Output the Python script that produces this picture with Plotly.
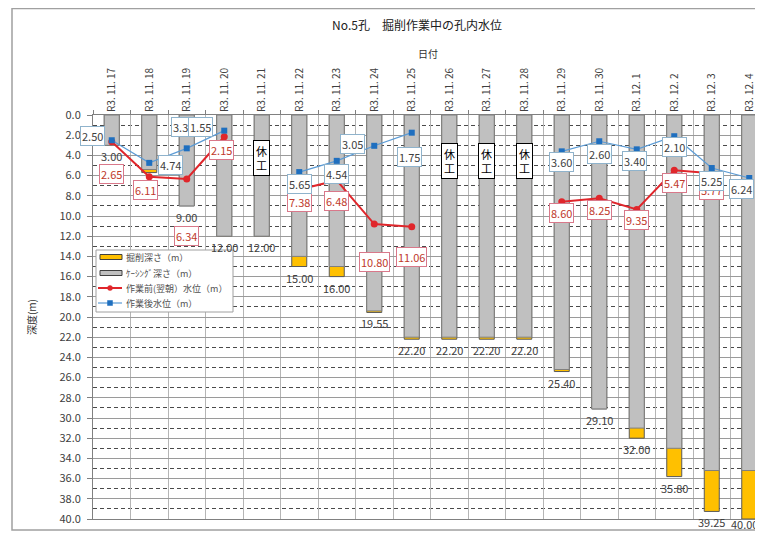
import plotly.graph_objects as go

# ---------------- data ----------------
dates = ["R3.11.17", "R3.11.18", "R3.11.19", "R3.11.20", "R3.11.21", "R3.11.22",
         "R3.11.23", "R3.11.24", "R3.11.25", "R3.11.26", "R3.11.27", "R3.11.28",
         "R3.11.29", "R3.11.30", "R3.12.1", "R3.12.2", "R3.12.3", "R3.12.4"]
excavation_depth = [3.00, 5.70, 9.00, 12.00, 12.00, 15.00, 16.00, 19.55, 22.20, 22.20,
                    22.20, 22.20, 25.40, 29.10, 32.00, 35.80, 39.25, 40.00]
casing_depth = [3.00, 5.40, 9.00, 12.00, 12.00, 14.00, 15.00, 19.40, 22.00, 22.00,
                22.00, 22.00, 25.20, 29.10, 31.00, 33.00, 35.20, 35.20]
level_before = [2.65, 6.11, 6.34, 2.15, None, 7.38, 6.48, 10.80, 11.06, None,
                None, None, 8.60, 8.25, 9.35, 5.47, 5.77, None]
level_after = [2.50, 4.74, 3.30, 1.55, None, 5.65, 4.54, 3.05, 1.75, None,
               None, None, 3.60, 2.60, 3.40, 2.10, 5.25, 6.24]
rest_days = ["R3.11.21", "R3.11.26", "R3.11.27", "R3.11.28"]
series_names = ["掘削深さ（m）", "ｹｰｼﾝｸﾞ深さ（m）", "作業前(翌朝）水位（m）", "作業後水位（m）"]

# ---------------- styling ----------------
FONT = "Noto Sans CJK JP"
OFF = 8                      # page body margin of the html page
W, H = 763 - OFF, 533 - OFF
ML, MT, MB = 93 - OFF, 115 - OFF, 14
CAT_PX = 37.5
plot_w = W - ML
plot_h = H - MT - MB
x_max = -0.5 + plot_w / CAT_PX

C_EXC, C_CAS, C_RED, C_BLUE_L, C_BLUE_M = "#ffc000", "#c0c0c0", "#e0262b", "#5b9bd5", "#1f6fbf"


def px(xs, ys):
    """screen pixel (in reference image) -> paper coords"""
    return (xs - OFF - ML) / plot_w, (H - MB - (ys - OFF)) / plot_h


# label offsets (pixels) for data labels
after_off = {0: (-19, 4), 1: (21, -2), 2: (-3, 21), 3: (-24, 4), 5: (0, -12), 6: (0, -13),
             7: (-22, 2), 8: (-2, -24), 12: (0, -11), 13: (0, -13), 14: (-2, -12),
             15: (0, -11), 16: (0, -13), 17: (-8, -11)}
before_off = {0: (0, -32), 1: (-4, -13), 2: (0, -57), 3: (-3, -13), 5: (0, -12), 6: (0, -21),
              7: (0, -38), 8: (0, -30), 12: (0, -11), 13: (0, -12), 14: (0, -11),
              15: (0, -13), 16: (0, -17)}
hidden_total = {1}
total_shift = {17: -5}
total_xshift = {17: -5}
rest_label_y = {"R3.11.21": 4.3}

fig = go.Figure()

fig.add_trace(go.Bar(
    x=dates, y=excavation_depth, name=series_names[0], width=0.4,
    marker=dict(color=C_EXC, line=dict(color="#595959", width=1)),
    hoverinfo="skip"))
fig.add_trace(go.Bar(
    x=dates, y=casing_depth, name=series_names[1], width=0.4,
    marker=dict(color=C_CAS, line=dict(color="#7f7f7f", width=1)),
    hoverinfo="skip"))
fig.add_trace(go.Scatter(
    x=dates, y=level_before, name=series_names[2], mode="lines+markers",
    line=dict(color=C_RED, width=2), connectgaps=False,
    marker=dict(symbol="circle", size=7, color=C_RED)))
fig.add_trace(go.Scatter(
    x=dates, y=level_after, name=series_names[3], mode="lines+markers",
    line=dict(color=C_BLUE_L, width=1.2), connectgaps=False,
    marker=dict(symbol="square", size=6, color=C_BLUE_M)))

annotations = []
# total depth labels
for i, (d, v) in enumerate(zip(dates, excavation_depth)):
    if i in hidden_total:
        continue
    annotations.append(dict(x=d, y=v, xref="x", yref="y", text=f"{v:.2f}",
                            showarrow=False, yshift=total_shift.get(i, -11),
                            xshift=total_xshift.get(i, 0),
                            font=dict(family=FONT, size=11, color="#404040")))
# rest-day boxes
for d in rest_days:
    annotations.append(dict(x=d, y=rest_label_y.get(d, 4.6), xref="x", yref="y",
                            text="休<br>工", showarrow=False,
                            font=dict(family=FONT, size=11, color="#000000"),
                            bgcolor="white", bordercolor="#000000", borderwidth=1,
                            borderpad=2))
# before-work labels (red)
for i, v in enumerate(level_before):
    if v is None:
        continue
    dx, dy = before_off.get(i, (0, -12))
    annotations.append(dict(x=dates[i], y=v, xref="x", yref="y", text=f"{v:.2f}",
                            showarrow=False, xshift=dx, yshift=dy,
                            font=dict(family=FONT, size=11, color="#c0392b"),
                            bgcolor="white", bordercolor="#d9788a", borderwidth=1,
                            borderpad=1))
# after-work labels (blue)
for i, v in enumerate(level_after):
    if v is None:
        continue
    dx, dy = after_off.get(i, (0, -12))
    annotations.append(dict(x=dates[i], y=v, xref="x", yref="y", text=f"{v:.2f}",
                            showarrow=False, xshift=dx, yshift=dy,
                            font=dict(family=FONT, size=11, color="#404040"),
                            bgcolor="white", bordercolor="#8fb3cc", borderwidth=1,
                            borderpad=1))

# ---------- hand-drawn compact legend (Excel style) ----------
shapes = []
bx0, by1 = px(96, 250)
bx1, by0 = px(233, 312)
shapes.append(dict(type="rect", xref="paper", yref="paper", x0=bx0, x1=bx1, y0=by0, y1=by1,
                   line=dict(color="#a0a0a0", width=1), fillcolor="white", layer="above"))
row_y = [257, 273, 288, 303]
for k, name in enumerate(series_names):
    ry = row_y[k]
    if k < 2:
        sx0, sy0 = px(100, ry + 2.5)
        sx1, sy1 = px(122, ry - 2.5)
        shapes.append(dict(type="rect", xref="paper", yref="paper", x0=sx0, x1=sx1, y0=sy0, y1=sy1,
                           fillcolor=[C_EXC, C_CAS][k], line=dict(color="#404040", width=1),
                           layer="above"))
    else:
        lc = C_RED if k == 2 else C_BLUE_L
        mc = C_RED if k == 2 else C_BLUE_M
        lx0, ly = px(98, ry)
        lx1, _ = px(122, ry)
        shapes.append(dict(type="line", xref="paper", yref="paper", x0=lx0, x1=lx1, y0=ly, y1=ly,
                           line=dict(color=lc, width=2 if k == 2 else 1.2), layer="above"))
        mx0, my1 = px(107.5, ry - 2.5)
        mx1, my0 = px(112.5, ry + 2.5)
        shapes.append(dict(type="circle" if k == 2 else "rect", xref="paper", yref="paper",
                           x0=mx0, x1=mx1, y0=my0, y1=my1, fillcolor=mc,
                           line=dict(color=mc, width=0.5), layer="above"))
    tx, ty = px(124, ry)
    annotations.append(dict(x=tx, y=ty, xref="paper", yref="paper", text=name, showarrow=False,
                            xanchor="left", yanchor="middle",
                            font=dict(family=FONT, size=9, color="#505050")))

# outer chart frame
fx0, fy1 = px(12, OFF + 0.5)
_, fy0 = px(12, 530)
shapes.append(dict(type="rect", xref="paper", yref="paper", x0=fx0, x1=1.05, y0=fy0, y1=fy1,
                   line=dict(color="#a0a0a0", width=1.5), layer="below"))

tick_text = [d.replace(".", ". ") for d in dates]

fig.update_layout(
    width=W, height=H,
    margin=dict(l=ML, r=0, t=MT, b=MB),
    paper_bgcolor="white", plot_bgcolor="white",
    barmode="overlay",
    font=dict(family=FONT, size=11, color="#404040"),
    title=dict(text="No.5孔　掘削作業中の孔内水位", x=(417 - OFF) / W, xanchor="center",
               y=1 - (26 - OFF) / H, yanchor="middle", yref="container",
               font=dict(family=FONT, size=12, color="#202020")),
    showlegend=False,
    xaxis=dict(type="category", side="top", range=[-0.5, x_max], automargin=False,
               tickmode="array", tickvals=dates, ticktext=tick_text,
               tickangle=-90, tickson="boundaries", ticks="outside", ticklen=4,
               tickcolor="#808080",
               showline=True, linecolor="#808080", linewidth=1, mirror=True,
               showgrid=True, gridcolor="#b5b5b5", gridwidth=1,
               tickfont=dict(family=FONT, size=10, color="#404040"),
               title=dict(text="日付", standoff=6,
                          font=dict(family=FONT, size=10, color="#303030"))),
    yaxis=dict(range=[40, 0], dtick=2, tickformat=".1f", ticks="outside", ticklen=5,
               ticklabelstandoff=4,
               automargin=False, tickcolor="#808080",
               showline=True, linecolor="#808080", linewidth=1, mirror=True,
               showgrid=True, gridcolor="#9a9a9a", gridwidth=1, zeroline=False,
               minor=dict(dtick=1, showgrid=True, gridcolor="#4a4a4a", griddash="4px,3px",
                          gridwidth=1),
               tickfont=dict(family=FONT, size=11, color="#404040"),
               title=dict(text="深度(m)", standoff=20,
                          font=dict(family=FONT, size=10, color="#303030"))),
    annotations=annotations,
    shapes=shapes,
)

fig.write_html("out.html")
